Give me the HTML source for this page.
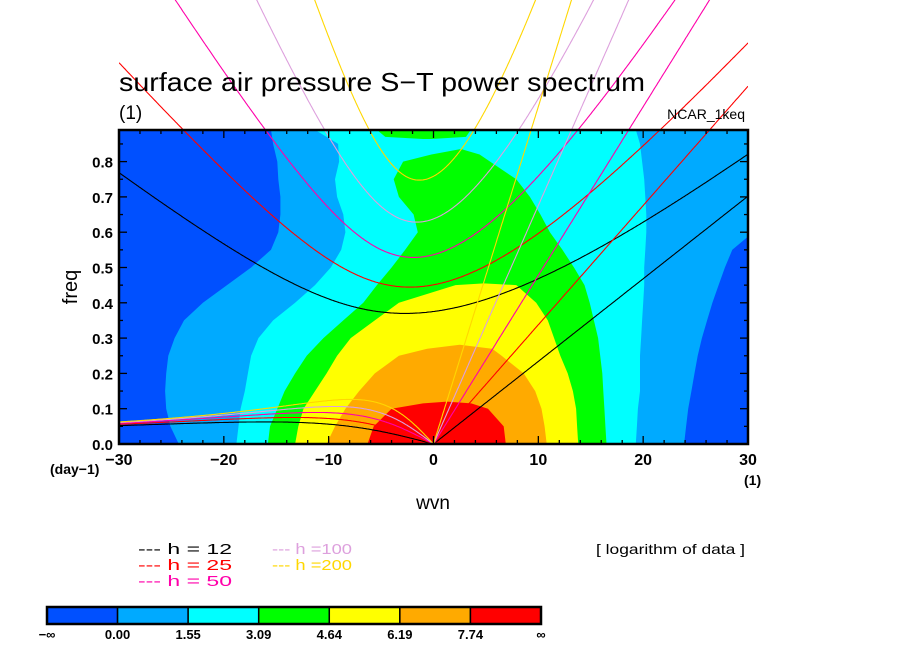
<!DOCTYPE html>
<html><head><meta charset="utf-8"><style>
html,body{margin:0;padding:0;background:#fff;}
svg{display:block;font-family:"Liberation Sans",sans-serif;}
</style></head><body>
<svg id="chart" width="904" height="654" viewBox="0 0 904 654" xmlns="http://www.w3.org/2000/svg">
<defs><clipPath id="xclip"><rect x="119" y="0" width="629" height="444"/></clipPath>
<clipPath id="pclip"><rect x="119" y="130" width="629" height="314"/></clipPath></defs>
<g id="fills" clip-path="url(#pclip)"></g>
<g id="curves" clip-path="url(#xclip)"></g>
<g id="axes"></g>
<text x="119" y="91" font-size="26" textLength="526" lengthAdjust="spacingAndGlyphs">surface air pressure S−T power spectrum</text>
<text x="119" y="119" font-size="19">(1)</text>
<text x="745" y="119" font-size="14" text-anchor="end">NCAR_1keq</text>
<text transform="translate(77,287) rotate(-90)" font-size="20" text-anchor="middle">freq</text>
<text x="433" y="509" font-size="19" text-anchor="middle">wvn</text>
<text x="50" y="474" font-size="14" font-weight="bold">(day−1)</text>
<text x="744" y="485" font-size="14" font-weight="bold">(1)</text>
<g id="legend"></g>
<text x="596" y="554" font-size="14" textLength="149" lengthAdjust="spacingAndGlyphs">[ logarithm of data ]</text>
<g id="cbar"></g>
</svg>
<script>
// ---- data ----
const levels = [0.00, 1.55, 3.09, 4.64, 6.19, 7.74];
const levelColors = ["#0050ff","#00aaff","#00ffff","#00ff00","#ffff00","#ffaa00","#ff0000"];
const cbarLabels = ["−∞","0.00","1.55","3.09","4.64","6.19","7.74","∞"];
const depths = [12, 25, 50, 100, 200];
const depthColors = ["#000000","#ff0000","#ff00aa","#dda0dd","#ffd700"];
const xTicks = [-30,-20,-10,0,10,20,30];
const yTicks = [0,0.1,0.2,0.3,0.4,0.5,0.6,0.7,0.8];
// contour band edges (wavenumber) per frequency row, for the superlevel set of each level
const fRows = [0,0.05,0.1,0.15,0.2,0.25,0.3,0.35,0.4,0.45,0.5,0.55,0.6,0.65,0.7,0.75,0.8,0.85,0.89];
const lvl0Left  = [-24.3,-25.1,-25.5,-25.6,-25.5,-25.3,-24.7,-23.8,-22.0,-19.7,-17.4,-15.5,-14.8,-14.6,-14.6,-14.8,-14.9,-15.3,-15.5];
const lvl0Right = [23.9,24.1,24.3,24.6,24.9,25.2,25.6,26.1,26.6,27.2,27.8,28.5,30.5,30.5,30.5,30.5,30.5,30.5,30.5];
const lvl1Left  = [-18.8,-18.6,-18.4,-18.0,-17.7,-17.4,-16.7,-15.3,-13.2,-11.3,-9.8,-8.8,-8.4,-8.6,-9.2,-9.4,-9.0,-9.1,-11.3];
const lvl1Right = [19.3,19.4,19.5,19.7,19.7,19.7,19.8,19.9,20.0,20.1,20.1,20.2,20.3,20.3,20.2,20.1,19.9,19.7,19.3];
const lvl2Rows  = [0,0.05,0.1,0.15,0.2,0.25,0.3,0.35,0.4,0.45,0.5,0.55,0.6,0.65,0.7,0.75,0.8,0.82,0.835];
const lvl2Left  = [-15.8,-15.6,-14.9,-14.2,-13.2,-12.1,-10.5,-8.6,-6.7,-5.4,-4.0,-2.7,-1.5,-1.9,-3.3,-3.8,-2.9,-0.2,2.5];
const lvl2Right = [16.5,16.4,16.3,16.2,16.1,15.9,15.7,15.3,14.9,14.4,13.4,12.3,11.1,10.2,9.2,7.9,5.4,4.4,2.7];
const lvl2TopRows  = [0.864,0.87,0.9];
const lvl2TopLeft  = [-1.0,-4.6,-5.8];
const lvl2TopRight = [-0.2,3.1,3.8];
const lvl3Rows  = [0,0.05,0.1,0.15,0.2,0.25,0.3,0.35,0.4,0.45,0.455];
const lvl3Left  = [-13.2,-12.9,-12.4,-11.3,-10.2,-9.2,-7.9,-5.6,-3.3,2.1,4.8];
const lvl3Right = [13.8,13.7,13.6,13.3,12.8,12.1,11.5,10.9,9.8,7.9,4.8];
const lvl4Rows  = [0,0.05,0.1,0.15,0.2,0.25,0.27,0.281];
const lvl4Left  = [-10.2,-9.4,-8.4,-7.1,-5.6,-3.3,-0.6,2.5];
const lvl4Right = [10.8,10.6,10.3,9.7,8.6,6.5,5.6,2.5];
const lvl5Rows  = [0,0.05,0.1,0.115,0.12];
const lvl5Left  = [-6.3,-5.7,-4.0,-1.0,1.3];
const lvl5Right = [6.9,6.7,5.2,3.6,1.3];

// ---- scales ----
const X0=119, X1=748, Y0=444, PX_PER_F=353;
const sx = k => X0 + (k+30)/60*(X1-X0);
const sy = f => Y0 - f*PX_PER_F;
const NS="http://www.w3.org/2000/svg";
function mk(tag, parent){const e=document.createElementNS(NS,tag);parent.appendChild(e);return e;}

// ---- fills ----
const fills=document.getElementById('fills');
const bg=mk('rect',fills);


bg.setAttribute('x',X0);bg.setAttribute('y',130);bg.setAttribute('width',X1-X0);bg.setAttribute('height',314);bg.setAttribute('fill',levelColors[0]);
const pieces=[
 [1,fRows,lvl0Left,lvl0Right],
 [2,fRows,lvl1Left,lvl1Right],
 [3,lvl2Rows,lvl2Left,lvl2Right],
 [3,lvl2TopRows,lvl2TopLeft,lvl2TopRight],
 [4,lvl3Rows,lvl3Left,lvl3Right],
 [5,lvl4Rows,lvl4Left,lvl4Right],
 [6,lvl5Rows,lvl5Left,lvl5Right]];
pieces.forEach((p,i)=>{
  const [ci,rows,L,R]=p;
  const pts=[];
  for(let j=0;j<rows.length;j++) pts.push(sx(L[j]).toFixed(1)+','+sy(rows[j]).toFixed(1));
  for(let j=rows.length-1;j>=0;j--) pts.push(sx(R[j]).toFixed(1)+','+sy(rows[j]).toFixed(1));
  if(rows[0]===0){pts.push(sx(L[0]).toFixed(1)+','+(Y0+2));pts.unshift(sx(R[0]).toFixed(1)+','+(Y0+2));}
  const pg=mk('polygon',fills);
  
  
  pg.setAttribute('points',pts.join(' '));
  pg.setAttribute('fill',levelColors[ci]);
});

// ---- dispersion curves ----
const g=9.8, beta=2.29e-11, R=6.371e6, CPD=86400/(2*Math.PI);
const curves=document.getElementById('curves');
function poly(pts,color,name){
  const pl=mk('polyline',curves);
  
  
  pl.setAttribute('points',pts.map(p=>p[0].toFixed(1)+','+p[1].toFixed(1)).join(' '));
  pl.setAttribute('fill','none');pl.setAttribute('stroke',color);pl.setAttribute('stroke-width','1.1');
}
depths.forEach((h,i)=>{
  const c=Math.sqrt(g*h), col=depthColors[i];
  const ig=[], ros=[], kel=[];
  for(let s=-300;s<=300;s++){
    const kw=s/10, k=kw/R;
    let w=Math.sqrt(k*k*c*c+3*beta*c);
    for(let it=0;it<30;it++){const f=w*w*w-(k*k*c*c+3*beta*c)*w-beta*k*c*c;const d=3*w*w-(k*k*c*c+3*beta*c);w-=f/d;}
    ig.push([sx(kw),Math.max(-50,sy(w*CPD))]);
    if(kw<=0){const wr=-beta*k/(k*k+3*beta/c);ros.push([sx(kw),sy(wr*CPD)]);}
    if(kw>=0){kel.push([sx(kw),Math.max(-50,sy(k*c*CPD))]);}
  }
  poly(ig,col,'ig-curve-h'+h);
  poly(ros,col,'rossby-curve-h'+h);
  poly(kel,col,'kelvin-line-h'+h);
});

// ---- axes ----
const ax=document.getElementById('axes');
const fr=mk('rect',ax);


fr.setAttribute('x',X0);fr.setAttribute('y',130);fr.setAttribute('width',X1-X0);fr.setAttribute('height',314);
fr.setAttribute('fill','none');fr.setAttribute('stroke','#000');fr.setAttribute('stroke-width','2.5');
function line(x1,y1,x2,y2,name){const l=mk('line',ax);l.setAttribute('x1',x1);l.setAttribute('y1',y1);l.setAttribute('x2',x2);l.setAttribute('y2',y2);l.setAttribute('stroke','#000');l.setAttribute('stroke-width','1.3');}
for(let k=-30;k<=30;k+=2){const major=k%10===0, L=major?8:4, x=sx(k);
  line(x,Y0,x,Y0-L,'x-tick');line(x,130,x,130+L,'x-tick-top');}
for(let f=0;f<=0.881;f+=0.05){const major=Math.round(f*100)%10===0, L=major?8:4, y=sy(f);
  line(X0,y,X0+L,y,'y-tick');line(X1,y,X1-L,y,'y-tick-right');}
xTicks.forEach(k=>{const t=mk('text',ax);
  
  
  t.setAttribute('x',sx(k));t.setAttribute('y',465);t.setAttribute('font-size','16');t.setAttribute('font-weight','bold');t.setAttribute('text-anchor','middle');
  t.textContent=(k<0?'−':'')+Math.abs(k);});
yTicks.forEach(f=>{const t=mk('text',ax);
  
  
  t.setAttribute('x',113);t.setAttribute('y',sy(f)+6);t.setAttribute('font-size','15');t.setAttribute('font-weight','bold');t.setAttribute('text-anchor','end');
  t.textContent=f.toFixed(1);});

// ---- legend ----
const lg=document.getElementById('legend');
depths.forEach((h,i)=>{const col=i<3?0:1,row=i<3?i:i-3;
  const t=mk('text',lg);
  
  
  t.setAttribute('x',138+col*134);t.setAttribute('y',554+row*16);t.setAttribute('font-size','15');t.setAttribute('fill',depthColors[i]);
  t.setAttribute('textLength',col===0?94:80);
  t.setAttribute('lengthAdjust','spacingAndGlyphs');
  t.setAttribute('xml:space','preserve');
  t.textContent='--- h '+(h>=100?'=':'= ')+h;});

// ---- colorbar ----
const cb=document.getElementById('cbar');
const CB0=47,CB1=541,CBW=(CB1-CB0)/levelColors.length;
levelColors.forEach((c,i)=>{const r=mk('rect',cb);
  
  
  r.setAttribute('x',CB0+i*CBW);r.setAttribute('y',607);r.setAttribute('width',CBW);r.setAttribute('height',17);
  r.setAttribute('fill',c);r.setAttribute('stroke','#000');r.setAttribute('stroke-width','1.5');});
const cbf=mk('rect',cb);


cbf.setAttribute('x',CB0);cbf.setAttribute('y',607);cbf.setAttribute('width',CB1-CB0);cbf.setAttribute('height',17);cbf.setAttribute('fill','none');cbf.setAttribute('stroke','#000');cbf.setAttribute('stroke-width','2.5');
cbarLabels.forEach((s,i)=>{const t=mk('text',cb);
  
  
  t.setAttribute('x',CB0+i*CBW);t.setAttribute('y',639);t.setAttribute('font-size','13');t.setAttribute('font-weight','bold');t.setAttribute('text-anchor','middle');
  t.textContent=s;});
</script>
</body></html>
